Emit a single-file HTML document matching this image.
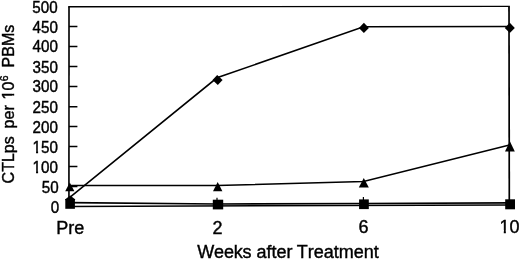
<!DOCTYPE html>
<html><head><meta charset="utf-8">
<style>
html,body{margin:0;padding:0;background:#fff;}
svg{display:block;}
text{font-family:"Liberation Sans",Arial,Helvetica,sans-serif;fill:#000;stroke:#000;stroke-width:0.4;}
</style></head>
<body>
<svg width="520" height="259" viewBox="0 0 520 259">
<rect width="520" height="259" fill="#fff"/>
<!-- frame -->
<g fill="none" stroke="#000" stroke-linecap="square">
<path stroke-width="1.6" stroke-linecap="butt" d="M68.95 206.5 L69.0 6.75"/>
<path stroke-width="1.4" stroke-linecap="butt" d="M68.2 6.75 L509.85 6.4"/>
<path stroke-width="1.7" stroke-linecap="butt" d="M509.0 6.4 L509.3 205"/>
<path stroke-width="1.5" stroke-linecap="butt" d="M68.15 206.5 L510.1 205.0"/>
<path stroke-width="1.5" stroke-linecap="butt" d="M69 26.5H77.4 M69 46.5H77.4 M69 66.5H77.4 M69 86.5H77.4 M69 106.7H77.4 M69 126.6H77.4 M69 146.6H77.4 M69 166.6H77.4 M69 186.6H77.4"/>
</g>
<!-- y tick labels -->
<g font-size="15.4" text-anchor="end" style="stroke-width:0.7" transform="scale(0.985,1.015)">
<text x="58.48" y="12.61">500</text>
<text x="58.78" y="32.12">450</text>
<text x="58.78" y="51.72">400</text>
<text x="58.78" y="71.43">350</text>
<text x="58.78" y="91.04">300</text>
<text x="58.78" y="110.94">250</text>
<text x="58.78" y="130.64">200</text>
<text x="58.78" y="150.35">150</text>
<text x="58.78" y="170.15">100</text>
<text x="59.49" y="189.85">50</text>
<text x="60.20" y="209.46">0</text>
</g>
<!-- x labels -->
<g font-size="18" text-anchor="middle" style="stroke-width:0.5">
<text x="70.2" y="234.2">Pre</text>
<text x="217.4" y="233.8">2</text>
<text x="363.6" y="233.1">6</text>
<text x="509.5" y="232.5">10</text>
</g>
<g font-size="18" style="font-kerning:none"><text x="197.3" y="257.8" textLength="54.2">Weeks</text><text x="256.4" y="257.7">after</text><text x="296.7" y="257.5">Treatment</text></g>
<g font-size="16" transform="translate(14.3,182.4) rotate(-90)" style="stroke-width:0.6">
<text x="-1" y="0">CTLps</text>
<text x="54" y="0">per</text>
<text x="83" y="0">10</text>
<g fill="#fff"><rect x="83.22" y="-2.30" width="3.60" height="4.20"/><rect x="88.64" y="-2.30" width="3.48" height="4.20"/></g>
<text x="101.2" y="-6.7" font-size="10.5">6</text>
<text x="115" y="0">PBMs</text>
</g>
<!-- hide foot serif of "1" to mimic Helvetica -->
<g fill="#fff"><rect x="32.59" y="150.19" width="3.46" height="4.47"/><rect x="38.09" y="150.19" width="3.34" height="4.47"/><rect x="32.59" y="170.28" width="3.46" height="4.47"/><rect x="38.09" y="170.28" width="3.34" height="4.47"/><rect x="499.81" y="230.01" width="3.96" height="4.44"/><rect x="505.86" y="230.01" width="3.81" height="4.44"/></g>
<!-- series -->
<g fill="none" stroke="#000" stroke-width="1.55">
<polyline points="69.5,197.7 217,77.8 363.5,26.7 509.5,26.4"/>
<polyline points="69.5,185.5 217,185.5 363.5,181.6 509.5,145.1"/>
<polyline stroke-width="1.7" points="69.5,202.7 217,204.0 363.5,203.5 509.5,202.9"/>
<path d="M217 197.7V201 M363.4 196.9V201" stroke-width="1.2"/>
</g>
<g fill="#000">
<path d="M70.2 195.6l5.2 3.8l-5.2 4.6l-5.2-4.6z"/>
<path d="M217.2 75l5.4 5l-4.8 5.1l-5.3-5z"/>
<path d="M363.9 22.8l5 5.1l-5 5.1l-5-5.1z"/>
<path d="M509.8 22.8l5 5.1l-5 5.1l-5-5.1z"/>
<path d="M69.8 182.4l4.6 8.9h-9.2z"/>
<path d="M217.7 182l4.7 9.3h-9.4z"/>
<path d="M363.8 178l5 9.5h-10z"/>
<path d="M509.9 141.2l4.9 10.4h-9.8z"/>
<rect x="65.3" y="199" width="9.6" height="9.8"/>
<rect x="212.8" y="199.7" width="10.4" height="9.7"/>
<rect x="359.1" y="199.4" width="9.7" height="9.7"/>
<rect x="505.2" y="199.3" width="9.8" height="10"/>
</g>
</svg>
</body></html>
